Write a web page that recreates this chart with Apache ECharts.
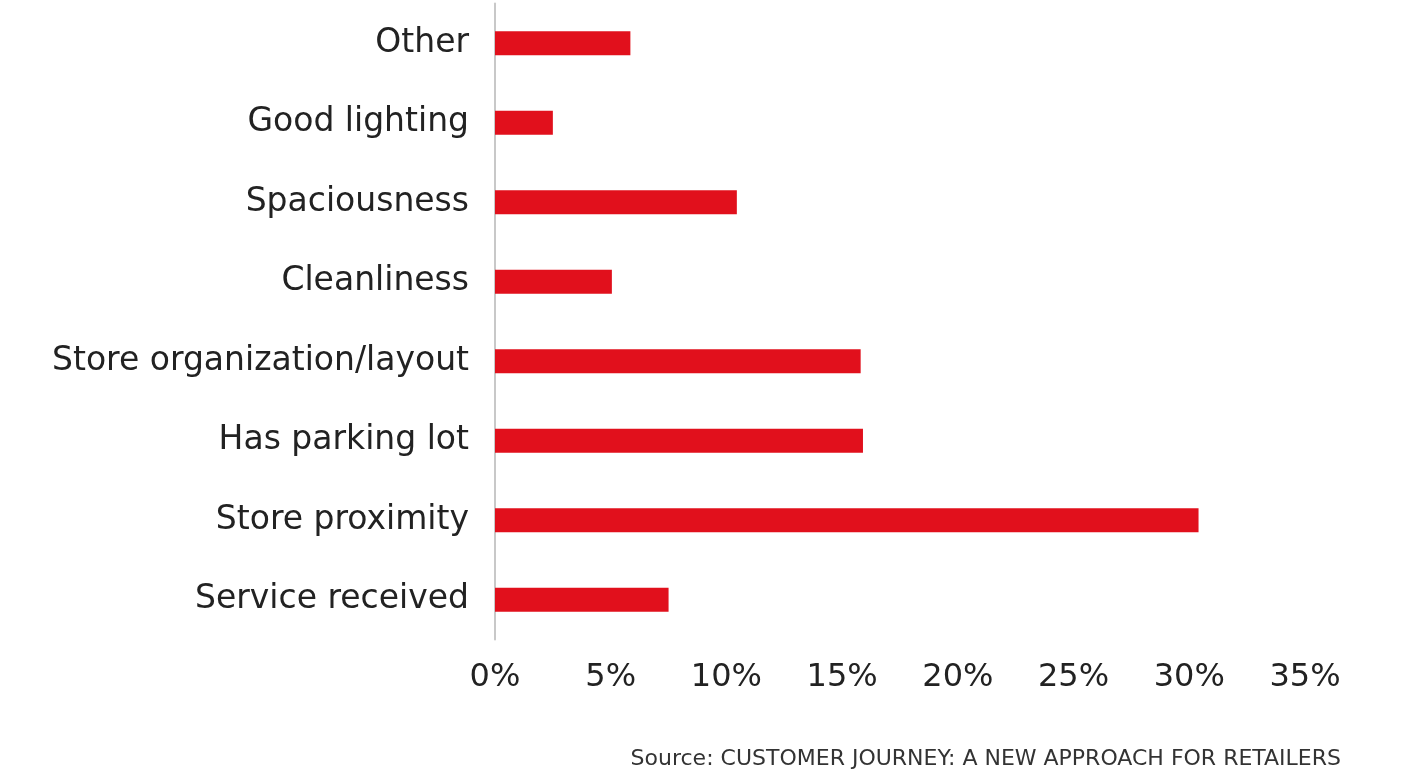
<!DOCTYPE html>
<html><head><meta charset="utf-8">
<script src="https://cdn.jsdelivr.net/npm/echarts@6/dist/echarts.min.js"></script>
<style>html,body{margin:0;padding:0;background:#fff;}#c{width:1404px;height:773px;}</style>
</head><body><div id="c"></div>
<script>
const categories = ["Service received","Store proximity","Has parking lot","Store organization/layout","Cleanliness","Spaciousness","Good lighting","Other"];
const values = [7.5, 30.4, 15.9, 15.8, 5.05, 10.45, 2.5, 5.85];
const tickLabels = ["0%","5%","10%","15%","20%","25%","30%","35%"];
const sourceText = "Source: CUSTOMER JOURNEY: A NEW APPROACH FOR RETAILERS";

const FONT = 'DejaVu Sans';
const chart = echarts.init(document.getElementById('c'));
chart.setOption({
  animation: false,
  textStyle: {fontFamily: FONT},
  grid: {left: 495, right: 99, top: 3.5, height: 636, containLabel: false},
  xAxis: {
    type: 'value', min: 0, max: 35, interval: 5,
    axisLine: {show: false}, axisTick: {show: false}, splitLine: {show: false},
    axisLabel: {formatter: v => tickLabels[v/5], fontSize: 32, color: '#222', margin: 22, fontFamily: FONT}
  },
  yAxis: {
    type: 'category', data: categories,
    axisLine: {show: true, lineStyle: {color: '#c8c8c8', width: 2}},
    axisTick: {show: false},
    axisLabel: {fontSize: 33, color: '#222', margin: 26, fontFamily: FONT}
  },
  series: [{type: 'bar', data: values, barWidth: 24, itemStyle: {color: '#e1101c'}}],
  graphic: [{type: 'text', right: 63, top: 748, style: {text: sourceText, fontSize: 22, fill: '#333', fontFamily: FONT}}]
});
</script></body></html>
